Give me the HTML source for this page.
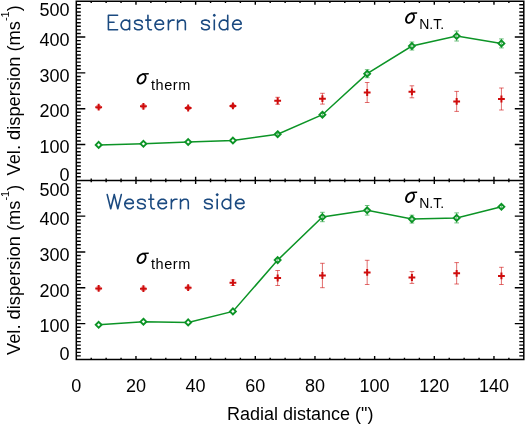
<!DOCTYPE html>
<html><head><meta charset="utf-8"><style>
html,body{margin:0;padding:0;background:#fff;}
body{width:525px;height:424px;position:relative;overflow:hidden;}
svg{position:absolute;left:0;top:0;will-change:transform;font-family:"Liberation Sans",sans-serif;font-size:18px;fill:#000;}
</style></head><body>
<svg width="525" height="424" viewBox="0 0 525 424">
<path d="M76.3 1.2 H523.8 V359.5 H76.3 Z M76.3 180.4 H523.8" fill="none" stroke="#000" stroke-width="1.5"/>
<path d="M76.30 176.82h4.5M523.80 176.82h-4.5M76.30 173.23h4.5M523.80 173.23h-4.5M76.30 169.65h4.5M523.80 169.65h-4.5M76.30 166.06h4.5M523.80 166.06h-4.5M76.30 162.48h4.5M523.80 162.48h-4.5M76.30 158.90h4.5M523.80 158.90h-4.5M76.30 155.31h4.5M523.80 155.31h-4.5M76.30 151.73h4.5M523.80 151.73h-4.5M76.30 148.14h4.5M523.80 148.14h-4.5M76.30 144.56h9.0M523.80 144.56h-9.0M76.30 140.98h4.5M523.80 140.98h-4.5M76.30 137.39h4.5M523.80 137.39h-4.5M76.30 133.81h4.5M523.80 133.81h-4.5M76.30 130.22h4.5M523.80 130.22h-4.5M76.30 126.64h4.5M523.80 126.64h-4.5M76.30 123.06h4.5M523.80 123.06h-4.5M76.30 119.47h4.5M523.80 119.47h-4.5M76.30 115.89h4.5M523.80 115.89h-4.5M76.30 112.30h4.5M523.80 112.30h-4.5M76.30 108.72h9.0M523.80 108.72h-9.0M76.30 105.14h4.5M523.80 105.14h-4.5M76.30 101.55h4.5M523.80 101.55h-4.5M76.30 97.97h4.5M523.80 97.97h-4.5M76.30 94.38h4.5M523.80 94.38h-4.5M76.30 90.80h4.5M523.80 90.80h-4.5M76.30 87.22h4.5M523.80 87.22h-4.5M76.30 83.63h4.5M523.80 83.63h-4.5M76.30 80.05h4.5M523.80 80.05h-4.5M76.30 76.46h4.5M523.80 76.46h-4.5M76.30 72.88h9.0M523.80 72.88h-9.0M76.30 69.30h4.5M523.80 69.30h-4.5M76.30 65.71h4.5M523.80 65.71h-4.5M76.30 62.13h4.5M523.80 62.13h-4.5M76.30 58.54h4.5M523.80 58.54h-4.5M76.30 54.96h4.5M523.80 54.96h-4.5M76.30 51.38h4.5M523.80 51.38h-4.5M76.30 47.79h4.5M523.80 47.79h-4.5M76.30 44.21h4.5M523.80 44.21h-4.5M76.30 40.62h4.5M523.80 40.62h-4.5M76.30 37.04h9.0M523.80 37.04h-9.0M76.30 33.46h4.5M523.80 33.46h-4.5M76.30 29.87h4.5M523.80 29.87h-4.5M76.30 26.29h4.5M523.80 26.29h-4.5M76.30 22.70h4.5M523.80 22.70h-4.5M76.30 19.12h4.5M523.80 19.12h-4.5M76.30 15.54h4.5M523.80 15.54h-4.5M76.30 11.95h4.5M523.80 11.95h-4.5M76.30 8.37h4.5M523.80 8.37h-4.5M76.30 4.78h4.5M523.80 4.78h-4.5M91.22 180.40v-1.8M91.22 1.20v1.8M106.13 180.40v-1.8M106.13 1.20v1.8M121.05 180.40v-1.8M121.05 1.20v1.8M135.97 180.40v-3.6M135.97 1.20v3.6M150.88 180.40v-1.8M150.88 1.20v1.8M165.80 180.40v-1.8M165.80 1.20v1.8M180.72 180.40v-1.8M180.72 1.20v1.8M195.63 180.40v-3.6M195.63 1.20v3.6M210.55 180.40v-1.8M210.55 1.20v1.8M225.47 180.40v-1.8M225.47 1.20v1.8M240.38 180.40v-1.8M240.38 1.20v1.8M255.30 180.40v-3.6M255.30 1.20v3.6M270.22 180.40v-1.8M270.22 1.20v1.8M285.13 180.40v-1.8M285.13 1.20v1.8M300.05 180.40v-1.8M300.05 1.20v1.8M314.97 180.40v-3.6M314.97 1.20v3.6M329.88 180.40v-1.8M329.88 1.20v1.8M344.80 180.40v-1.8M344.80 1.20v1.8M359.72 180.40v-1.8M359.72 1.20v1.8M374.63 180.40v-3.6M374.63 1.20v3.6M389.55 180.40v-1.8M389.55 1.20v1.8M404.47 180.40v-1.8M404.47 1.20v1.8M419.38 180.40v-1.8M419.38 1.20v1.8M434.30 180.40v-3.6M434.30 1.20v3.6M449.22 180.40v-1.8M449.22 1.20v1.8M464.13 180.40v-1.8M464.13 1.20v1.8M479.05 180.40v-1.8M479.05 1.20v1.8M493.97 180.40v-3.6M493.97 1.20v3.6M508.88 180.40v-1.8M508.88 1.20v1.8M76.30 355.92h4.5M523.80 355.92h-4.5M76.30 352.33h4.5M523.80 352.33h-4.5M76.30 348.75h4.5M523.80 348.75h-4.5M76.30 345.16h4.5M523.80 345.16h-4.5M76.30 341.58h4.5M523.80 341.58h-4.5M76.30 338.00h4.5M523.80 338.00h-4.5M76.30 334.41h4.5M523.80 334.41h-4.5M76.30 330.83h4.5M523.80 330.83h-4.5M76.30 327.24h4.5M523.80 327.24h-4.5M76.30 323.66h9.0M523.80 323.66h-9.0M76.30 320.08h4.5M523.80 320.08h-4.5M76.30 316.49h4.5M523.80 316.49h-4.5M76.30 312.91h4.5M523.80 312.91h-4.5M76.30 309.32h4.5M523.80 309.32h-4.5M76.30 305.74h4.5M523.80 305.74h-4.5M76.30 302.16h4.5M523.80 302.16h-4.5M76.30 298.57h4.5M523.80 298.57h-4.5M76.30 294.99h4.5M523.80 294.99h-4.5M76.30 291.40h4.5M523.80 291.40h-4.5M76.30 287.82h9.0M523.80 287.82h-9.0M76.30 284.24h4.5M523.80 284.24h-4.5M76.30 280.65h4.5M523.80 280.65h-4.5M76.30 277.07h4.5M523.80 277.07h-4.5M76.30 273.48h4.5M523.80 273.48h-4.5M76.30 269.90h4.5M523.80 269.90h-4.5M76.30 266.32h4.5M523.80 266.32h-4.5M76.30 262.73h4.5M523.80 262.73h-4.5M76.30 259.15h4.5M523.80 259.15h-4.5M76.30 255.56h4.5M523.80 255.56h-4.5M76.30 251.98h9.0M523.80 251.98h-9.0M76.30 248.40h4.5M523.80 248.40h-4.5M76.30 244.81h4.5M523.80 244.81h-4.5M76.30 241.23h4.5M523.80 241.23h-4.5M76.30 237.64h4.5M523.80 237.64h-4.5M76.30 234.06h4.5M523.80 234.06h-4.5M76.30 230.48h4.5M523.80 230.48h-4.5M76.30 226.89h4.5M523.80 226.89h-4.5M76.30 223.31h4.5M523.80 223.31h-4.5M76.30 219.72h4.5M523.80 219.72h-4.5M76.30 216.14h9.0M523.80 216.14h-9.0M76.30 212.56h4.5M523.80 212.56h-4.5M76.30 208.97h4.5M523.80 208.97h-4.5M76.30 205.39h4.5M523.80 205.39h-4.5M76.30 201.80h4.5M523.80 201.80h-4.5M76.30 198.22h4.5M523.80 198.22h-4.5M76.30 194.64h4.5M523.80 194.64h-4.5M76.30 191.05h4.5M523.80 191.05h-4.5M76.30 187.47h4.5M523.80 187.47h-4.5M76.30 183.88h4.5M523.80 183.88h-4.5M91.22 359.50v-1.8M91.22 180.40v1.8M106.13 359.50v-1.8M106.13 180.40v1.8M121.05 359.50v-1.8M121.05 180.40v1.8M135.97 359.50v-3.6M135.97 180.40v3.6M150.88 359.50v-1.8M150.88 180.40v1.8M165.80 359.50v-1.8M165.80 180.40v1.8M180.72 359.50v-1.8M180.72 180.40v1.8M195.63 359.50v-3.6M195.63 180.40v3.6M210.55 359.50v-1.8M210.55 180.40v1.8M225.47 359.50v-1.8M225.47 180.40v1.8M240.38 359.50v-1.8M240.38 180.40v1.8M255.30 359.50v-3.6M255.30 180.40v3.6M270.22 359.50v-1.8M270.22 180.40v1.8M285.13 359.50v-1.8M285.13 180.40v1.8M300.05 359.50v-1.8M300.05 180.40v1.8M314.97 359.50v-3.6M314.97 180.40v3.6M329.88 359.50v-1.8M329.88 180.40v1.8M344.80 359.50v-1.8M344.80 180.40v1.8M359.72 359.50v-1.8M359.72 180.40v1.8M374.63 359.50v-3.6M374.63 180.40v3.6M389.55 359.50v-1.8M389.55 180.40v1.8M404.47 359.50v-1.8M404.47 180.40v1.8M419.38 359.50v-1.8M419.38 180.40v1.8M434.30 359.50v-3.6M434.30 180.40v3.6M449.22 359.50v-1.8M449.22 180.40v1.8M464.13 359.50v-1.8M464.13 180.40v1.8M479.05 359.50v-1.8M479.05 180.40v1.8M493.97 359.50v-3.6M493.97 180.40v3.6M508.88 359.50v-1.8M508.88 180.40v1.8" fill="none" stroke="#000" stroke-width="1.4"/>
<polyline points="98.67,144.90 143.42,143.80 188.17,142.00 232.92,140.50 277.67,134.20 322.42,114.70 367.17,73.70 411.92,46.00 456.67,36.00 501.42,43.40" fill="none" stroke="#0c9426" stroke-width="1.5"/>
<path d="M98.67 141.95L101.62 144.90L98.67 147.85L95.72 144.90Z" fill="#fff" stroke="#0c9426" stroke-width="1.9"/>
<path d="M98.67 105.70V108.70M96.38 105.70h4.6M96.38 108.70h4.6" stroke="#cf0c0c" stroke-width="1" fill="none" opacity="0.6"/>
<path d="M95.27 107.20h6.8M98.67 103.80v6.8" stroke="#cf0c0c" stroke-width="2"/>
<path d="M143.42 140.85L146.37 143.80L143.42 146.75L140.47 143.80Z" fill="#fff" stroke="#0c9426" stroke-width="1.9"/>
<path d="M143.42 104.80V107.80M141.12 104.80h4.6M141.12 107.80h4.6" stroke="#cf0c0c" stroke-width="1" fill="none" opacity="0.6"/>
<path d="M140.02 106.30h6.8M143.42 102.90v6.8" stroke="#cf0c0c" stroke-width="2"/>
<path d="M188.17 139.05L191.12 142.00L188.17 144.95L185.22 142.00Z" fill="#fff" stroke="#0c9426" stroke-width="1.9"/>
<path d="M188.17 106.50V109.50M185.87 106.50h4.6M185.87 109.50h4.6" stroke="#cf0c0c" stroke-width="1" fill="none" opacity="0.6"/>
<path d="M184.77 108.00h6.8M188.17 104.60v6.8" stroke="#cf0c0c" stroke-width="2"/>
<path d="M232.92 137.55L235.87 140.50L232.92 143.45L229.97 140.50Z" fill="#fff" stroke="#0c9426" stroke-width="1.9"/>
<path d="M232.92 104.40V107.40M230.62 104.40h4.6M230.62 107.40h4.6" stroke="#cf0c0c" stroke-width="1" fill="none" opacity="0.6"/>
<path d="M229.52 105.90h6.8M232.92 102.50v6.8" stroke="#cf0c0c" stroke-width="2"/>
<path d="M277.67 131.25L280.62 134.20L277.67 137.15L274.72 134.20Z" fill="#fff" stroke="#0c9426" stroke-width="1.9"/>
<path d="M277.67 133.20V135.20M275.37 133.20h4.6M275.37 135.20h4.6" stroke="#0c9426" stroke-width="1" fill="none" opacity="0.6"/>
<path d="M277.67 97.30V104.30M275.37 97.30h4.6M275.37 104.30h4.6" stroke="#cf0c0c" stroke-width="1" fill="none" opacity="0.6"/>
<path d="M274.27 100.80h6.8M277.67 97.40v6.8" stroke="#cf0c0c" stroke-width="2"/>
<path d="M322.42 111.75L325.37 114.70L322.42 117.65L319.47 114.70Z" fill="#fff" stroke="#0c9426" stroke-width="1.9"/>
<path d="M322.42 113.20V116.20M320.12 113.20h4.6M320.12 116.20h4.6" stroke="#0c9426" stroke-width="1" fill="none" opacity="0.6"/>
<path d="M322.42 93.30V104.10M320.12 93.30h4.6M320.12 104.10h4.6" stroke="#cf0c0c" stroke-width="1" fill="none" opacity="0.6"/>
<path d="M319.02 98.70h6.8M322.42 95.30v6.8" stroke="#cf0c0c" stroke-width="2"/>
<path d="M367.17 70.75L370.12 73.70L367.17 76.65L364.22 73.70Z" fill="#fff" stroke="#0c9426" stroke-width="1.9"/>
<path d="M367.17 69.70V77.70M364.87 69.70h4.6M364.87 77.70h4.6" stroke="#0c9426" stroke-width="1" fill="none" opacity="0.6"/>
<path d="M367.17 82.50V102.50M364.87 82.50h4.6M364.87 102.50h4.6" stroke="#cf0c0c" stroke-width="1" fill="none" opacity="0.6"/>
<path d="M363.77 92.50h6.8M367.17 89.10v6.8" stroke="#cf0c0c" stroke-width="2"/>
<path d="M411.92 43.05L414.87 46.00L411.92 48.95L408.97 46.00Z" fill="#fff" stroke="#0c9426" stroke-width="1.9"/>
<path d="M411.92 42.00V50.00M409.62 42.00h4.6M409.62 50.00h4.6" stroke="#0c9426" stroke-width="1" fill="none" opacity="0.6"/>
<path d="M411.92 85.80V97.80M409.62 85.80h4.6M409.62 97.80h4.6" stroke="#cf0c0c" stroke-width="1" fill="none" opacity="0.6"/>
<path d="M408.52 91.80h6.8M411.92 88.40v6.8" stroke="#cf0c0c" stroke-width="2"/>
<path d="M456.67 33.05L459.62 36.00L456.67 38.95L453.72 36.00Z" fill="#fff" stroke="#0c9426" stroke-width="1.9"/>
<path d="M456.67 31.00V41.00M454.37 31.00h4.6M454.37 41.00h4.6" stroke="#0c9426" stroke-width="1" fill="none" opacity="0.6"/>
<path d="M456.67 91.40V111.40M454.37 91.40h4.6M454.37 111.40h4.6" stroke="#cf0c0c" stroke-width="1" fill="none" opacity="0.6"/>
<path d="M453.27 101.40h6.8M456.67 98.00v6.8" stroke="#cf0c0c" stroke-width="2"/>
<path d="M501.42 40.45L504.37 43.40L501.42 46.35L498.47 43.40Z" fill="#fff" stroke="#0c9426" stroke-width="1.9"/>
<path d="M501.42 38.90V47.90M499.12 38.90h4.6M499.12 47.90h4.6" stroke="#0c9426" stroke-width="1" fill="none" opacity="0.6"/>
<path d="M501.42 88.00V110.00M499.12 88.00h4.6M499.12 110.00h4.6" stroke="#cf0c0c" stroke-width="1" fill="none" opacity="0.6"/>
<path d="M498.02 99.00h6.8M501.42 95.60v6.8" stroke="#cf0c0c" stroke-width="2"/>
<polyline points="98.67,324.80 143.42,321.70 188.17,322.40 232.92,311.40 277.67,260.10 322.42,217.00 367.17,210.30 411.92,219.10 456.67,217.90 501.42,206.80" fill="none" stroke="#0c9426" stroke-width="1.5"/>
<path d="M98.67 321.85L101.62 324.80L98.67 327.75L95.72 324.80Z" fill="#fff" stroke="#0c9426" stroke-width="1.9"/>
<path d="M98.67 286.90V289.90M96.38 286.90h4.6M96.38 289.90h4.6" stroke="#cf0c0c" stroke-width="1" fill="none" opacity="0.6"/>
<path d="M95.27 288.40h6.8M98.67 285.00v6.8" stroke="#cf0c0c" stroke-width="2"/>
<path d="M143.42 318.75L146.37 321.70L143.42 324.65L140.47 321.70Z" fill="#fff" stroke="#0c9426" stroke-width="1.9"/>
<path d="M143.42 287.20V290.20M141.12 287.20h4.6M141.12 290.20h4.6" stroke="#cf0c0c" stroke-width="1" fill="none" opacity="0.6"/>
<path d="M140.02 288.70h6.8M143.42 285.30v6.8" stroke="#cf0c0c" stroke-width="2"/>
<path d="M188.17 319.45L191.12 322.40L188.17 325.35L185.22 322.40Z" fill="#fff" stroke="#0c9426" stroke-width="1.9"/>
<path d="M188.17 286.20V289.20M185.87 286.20h4.6M185.87 289.20h4.6" stroke="#cf0c0c" stroke-width="1" fill="none" opacity="0.6"/>
<path d="M184.77 287.70h6.8M188.17 284.30v6.8" stroke="#cf0c0c" stroke-width="2"/>
<path d="M232.92 308.45L235.87 311.40L232.92 314.35L229.97 311.40Z" fill="#fff" stroke="#0c9426" stroke-width="1.9"/>
<path d="M232.92 279.90V285.50M230.62 279.90h4.6M230.62 285.50h4.6" stroke="#cf0c0c" stroke-width="1" fill="none" opacity="0.6"/>
<path d="M229.52 282.70h6.8M232.92 279.30v6.8" stroke="#cf0c0c" stroke-width="2"/>
<path d="M277.67 257.15L280.62 260.10L277.67 263.05L274.72 260.10Z" fill="#fff" stroke="#0c9426" stroke-width="1.9"/>
<path d="M277.67 258.60V261.60M275.37 258.60h4.6M275.37 261.60h4.6" stroke="#0c9426" stroke-width="1" fill="none" opacity="0.6"/>
<path d="M277.67 270.50V285.50M275.37 270.50h4.6M275.37 285.50h4.6" stroke="#cf0c0c" stroke-width="1" fill="none" opacity="0.6"/>
<path d="M274.27 278.00h6.8M277.67 274.60v6.8" stroke="#cf0c0c" stroke-width="2"/>
<path d="M322.42 214.05L325.37 217.00L322.42 219.95L319.47 217.00Z" fill="#fff" stroke="#0c9426" stroke-width="1.9"/>
<path d="M322.42 212.30V221.70M320.12 212.30h4.6M320.12 221.70h4.6" stroke="#0c9426" stroke-width="1" fill="none" opacity="0.6"/>
<path d="M322.42 263.30V287.70M320.12 263.30h4.6M320.12 287.70h4.6" stroke="#cf0c0c" stroke-width="1" fill="none" opacity="0.6"/>
<path d="M319.02 275.50h6.8M322.42 272.10v6.8" stroke="#cf0c0c" stroke-width="2"/>
<path d="M367.17 207.35L370.12 210.30L367.17 213.25L364.22 210.30Z" fill="#fff" stroke="#0c9426" stroke-width="1.9"/>
<path d="M367.17 205.50V215.10M364.87 205.50h4.6M364.87 215.10h4.6" stroke="#0c9426" stroke-width="1" fill="none" opacity="0.6"/>
<path d="M367.17 260.30V284.50M364.87 260.30h4.6M364.87 284.50h4.6" stroke="#cf0c0c" stroke-width="1" fill="none" opacity="0.6"/>
<path d="M363.77 272.40h6.8M367.17 269.00v6.8" stroke="#cf0c0c" stroke-width="2"/>
<path d="M411.92 216.15L414.87 219.10L411.92 222.05L408.97 219.10Z" fill="#fff" stroke="#0c9426" stroke-width="1.9"/>
<path d="M411.92 215.20V223.00M409.62 215.20h4.6M409.62 223.00h4.6" stroke="#0c9426" stroke-width="1" fill="none" opacity="0.6"/>
<path d="M411.92 271.60V283.40M409.62 271.60h4.6M409.62 283.40h4.6" stroke="#cf0c0c" stroke-width="1" fill="none" opacity="0.6"/>
<path d="M408.52 277.50h6.8M411.92 274.10v6.8" stroke="#cf0c0c" stroke-width="2"/>
<path d="M456.67 214.95L459.62 217.90L456.67 220.85L453.72 217.90Z" fill="#fff" stroke="#0c9426" stroke-width="1.9"/>
<path d="M456.67 212.90V222.90M454.37 212.90h4.6M454.37 222.90h4.6" stroke="#0c9426" stroke-width="1" fill="none" opacity="0.6"/>
<path d="M456.67 262.60V284.00M454.37 262.60h4.6M454.37 284.00h4.6" stroke="#cf0c0c" stroke-width="1" fill="none" opacity="0.6"/>
<path d="M453.27 273.30h6.8M456.67 269.90v6.8" stroke="#cf0c0c" stroke-width="2"/>
<path d="M501.42 203.85L504.37 206.80L501.42 209.75L498.47 206.80Z" fill="#fff" stroke="#0c9426" stroke-width="1.9"/>
<path d="M501.42 205.30V208.30M499.12 205.30h4.6M499.12 208.30h4.6" stroke="#0c9426" stroke-width="1" fill="none" opacity="0.6"/>
<path d="M501.42 267.30V284.50M499.12 267.30h4.6M499.12 284.50h4.6" stroke="#cf0c0c" stroke-width="1" fill="none" opacity="0.6"/>
<path d="M498.02 275.90h6.8M501.42 272.50v6.8" stroke="#cf0c0c" stroke-width="2"/>
<path d="M108.40 15.31 L108.40 29.80 M108.40 15.31 L117.58 15.31 M108.40 22.21 L114.05 22.21 M108.40 29.80 L117.58 29.80 M129.58 20.14 L129.58 29.80 M129.58 22.21 L128.17 20.83 L126.76 20.14 L124.64 20.14 L123.23 20.83 L121.82 22.21 L121.11 24.28 L121.11 25.66 L121.82 27.73 L123.23 29.11 L124.64 29.80 L126.76 29.80 L128.17 29.11 L129.58 27.73 M142.29 22.21 L141.59 20.83 L139.47 20.14 L137.35 20.14 L135.23 20.83 L134.53 22.21 L135.23 23.59 L136.64 24.28 L140.17 24.97 L141.59 25.66 L142.29 27.04 L142.29 27.73 L141.59 29.11 L139.47 29.80 L137.35 29.80 L135.23 29.11 L134.53 27.73 M147.94 15.31 L147.94 27.04 L148.65 29.11 L150.06 29.80 L151.47 29.80 M145.82 20.14 L150.76 20.14 M155.00 24.28 L163.47 24.28 L163.47 22.90 L162.77 21.52 L162.06 20.83 L160.65 20.14 L158.53 20.14 L157.12 20.83 L155.71 22.21 L155.00 24.28 L155.00 25.66 L155.71 27.73 L157.12 29.11 L158.53 29.80 L160.65 29.80 L162.06 29.11 L163.47 27.73 M168.41 20.14 L168.41 29.80 M168.41 24.28 L169.12 22.21 L170.53 20.83 L171.94 20.14 L174.06 20.14 M177.59 20.14 L177.59 29.80 M177.59 22.90 L179.71 20.83 L181.12 20.14 L183.24 20.14 L184.65 20.83 L185.36 22.90 L185.36 29.80 M209.36 22.21 L208.66 20.83 L206.54 20.14 L204.42 20.14 L202.30 20.83 L201.60 22.21 L202.30 23.59 L203.71 24.28 L207.24 24.97 L208.66 25.66 L209.36 27.04 L209.36 27.73 L208.66 29.11 L206.54 29.80 L204.42 29.80 L202.30 29.11 L201.60 27.73 M213.60 15.31 L214.30 16.00 L215.01 15.31 L214.30 14.62 L213.60 15.31 M214.30 20.14 L214.30 29.80 M227.72 15.31 L227.72 29.80 M227.72 22.21 L226.31 20.83 L224.89 20.14 L222.78 20.14 L221.36 20.83 L219.95 22.21 L219.25 24.28 L219.25 25.66 L219.95 27.73 L221.36 29.11 L222.78 29.80 L224.89 29.80 L226.31 29.11 L227.72 27.73 M232.66 24.28 L241.13 24.28 L241.13 22.90 L240.43 21.52 L239.72 20.83 L238.31 20.14 L236.19 20.14 L234.78 20.83 L233.37 22.21 L232.66 24.28 L232.66 25.66 L233.37 27.73 L234.78 29.11 L236.19 29.80 L238.31 29.80 L239.72 29.11 L241.13 27.73" fill="none" stroke="#1b4a80" stroke-width="1.6" stroke-linecap="round" stroke-linejoin="round"/>
<path d="M107.21 194.63 L110.73 208.70 M114.26 194.63 L110.73 208.70 M114.26 194.63 L117.78 208.70 M121.31 194.63 L117.78 208.70 M124.83 203.34 L133.29 203.34 L133.29 202.00 L132.59 200.66 L131.88 199.99 L130.47 199.32 L128.36 199.32 L126.95 199.99 L125.54 201.33 L124.83 203.34 L124.83 204.68 L125.54 206.69 L126.95 208.03 L128.36 208.70 L130.47 208.70 L131.88 208.03 L133.29 206.69 M145.28 201.33 L144.57 199.99 L142.46 199.32 L140.34 199.32 L138.23 199.99 L137.52 201.33 L138.23 202.67 L139.64 203.34 L143.16 204.01 L144.57 204.68 L145.28 206.02 L145.28 206.69 L144.57 208.03 L142.46 208.70 L140.34 208.70 L138.23 208.03 L137.52 206.69 M150.92 194.63 L150.92 206.02 L151.62 208.03 L153.03 208.70 L154.44 208.70 M148.80 199.32 L153.74 199.32 M157.97 203.34 L166.43 203.34 L166.43 202.00 L165.72 200.66 L165.02 199.99 L163.61 199.32 L161.49 199.32 L160.08 199.99 L158.67 201.33 L157.97 203.34 L157.97 204.68 L158.67 206.69 L160.08 208.03 L161.49 208.70 L163.61 208.70 L165.02 208.03 L166.43 206.69 M171.36 199.32 L171.36 208.70 M171.36 203.34 L172.07 201.33 L173.48 199.99 L174.89 199.32 L177.00 199.32 M180.53 199.32 L180.53 208.70 M180.53 202.00 L182.64 199.99 L184.05 199.32 L186.17 199.32 L187.58 199.99 L188.28 202.00 L188.28 208.70 M212.25 201.33 L211.55 199.99 L209.43 199.32 L207.32 199.32 L205.20 199.99 L204.50 201.33 L205.20 202.67 L206.61 203.34 L210.14 204.01 L211.55 204.68 L212.25 206.02 L212.25 206.69 L211.55 208.03 L209.43 208.70 L207.32 208.70 L205.20 208.03 L204.50 206.69 M216.48 194.63 L217.19 195.30 L217.90 194.63 L217.19 193.96 L216.48 194.63 M217.19 199.32 L217.19 208.70 M230.58 194.63 L230.58 208.70 M230.58 201.33 L229.17 199.99 L227.76 199.32 L225.65 199.32 L224.24 199.99 L222.83 201.33 L222.12 203.34 L222.12 204.68 L222.83 206.69 L224.24 208.03 L225.65 208.70 L227.76 208.70 L229.17 208.03 L230.58 206.69 M235.52 203.34 L243.98 203.34 L243.98 202.00 L243.28 200.66 L242.57 199.99 L241.16 199.32 L239.04 199.32 L237.63 199.99 L236.22 201.33 L235.52 203.34 L235.52 204.68 L236.22 206.69 L237.63 208.03 L239.04 208.70 L241.16 208.70 L242.57 208.03 L243.98 206.69" fill="none" stroke="#1b4a80" stroke-width="1.6" stroke-linecap="round" stroke-linejoin="round"/>
<text x="69.6" y="16.0" text-anchor="end">500</text>
<text x="69.6" y="45.7" text-anchor="end">400</text>
<text x="69.6" y="81.6" text-anchor="end">300</text>
<text x="69.6" y="117.2" text-anchor="end">200</text>
<text x="69.6" y="153.0" text-anchor="end">100</text>
<text x="69.6" y="181.0" text-anchor="end">0</text>
<text x="69.6" y="195.8" text-anchor="end">500</text>
<text x="69.6" y="224.9" text-anchor="end">400</text>
<text x="69.6" y="260.8" text-anchor="end">300</text>
<text x="69.6" y="296.6" text-anchor="end">200</text>
<text x="69.6" y="332.2" text-anchor="end">100</text>
<text x="69.6" y="359.8" text-anchor="end">0</text>
<text x="76.30" y="391.7" text-anchor="middle">0</text>
<text x="135.97" y="391.7" text-anchor="middle">20</text>
<text x="195.63" y="391.7" text-anchor="middle">40</text>
<text x="255.30" y="391.7" text-anchor="middle">60</text>
<text x="314.97" y="391.7" text-anchor="middle">80</text>
<text x="374.63" y="391.7" text-anchor="middle">100</text>
<text x="434.30" y="391.7" text-anchor="middle">120</text>
<text x="493.97" y="391.7" text-anchor="middle">140</text>
<text x="227" y="419.6">Radial distance (")</text>
<g transform="translate(19.6 175.5) rotate(-90)"><text x="0" y="0"><tspan font-size="18.3">Vel. dispersion (ms</tspan><tspan font-size="11" dy="-10.7">-1</tspan><tspan dy="10.7">)</tspan></text></g>
<g transform="translate(19.6 355.0) rotate(-90)"><text x="0" y="0"><tspan font-size="18.3">Vel. dispersion (ms</tspan><tspan font-size="11" dy="-10.7">-1</tspan><tspan dy="10.7">)</tspan></text></g>
<g transform="translate(136.50 73.00)"><path fill-rule="evenodd" d="M8.48 1.17L8.93 1.54L9.30 1.98L9.61 2.50L9.83 3.08L9.98 3.70L10.04 4.37L10.02 5.06L9.91 5.77L9.72 6.48L9.46 7.19L9.12 7.87L8.70 8.52L8.23 9.13L7.71 9.69L7.13 10.18L6.53 10.60L5.90 10.94L5.26 11.20L4.61 11.37L3.97 11.45L3.35 11.43L2.76 11.32L2.22 11.12L1.72 10.83L1.27 10.46L0.90 10.02L0.59 9.50L0.37 8.92L0.22 8.30L0.16 7.63L0.18 6.94L0.29 6.23L0.48 5.52L0.74 4.81L1.08 4.13L1.50 3.48L1.97 2.87L2.49 2.31L3.07 1.82L3.67 1.40L4.30 1.06L4.94 0.80L5.59 0.63L6.23 0.55L6.85 0.57L7.44 0.68L7.98 0.88ZM7.43 2.34L7.68 2.54L7.90 2.80L8.07 3.12L8.19 3.48L8.26 3.88L8.27 4.32L8.24 4.78L8.15 5.27L8.01 5.76L7.82 6.26L7.59 6.75L7.32 7.22L7.01 7.68L6.67 8.10L6.31 8.49L5.92 8.83L5.53 9.12L5.13 9.36L4.72 9.53L4.33 9.65L3.96 9.70L3.60 9.68L3.27 9.60L2.97 9.46L2.72 9.26L2.50 9.00L2.33 8.68L2.21 8.32L2.14 7.92L2.13 7.48L2.16 7.02L2.25 6.53L2.39 6.04L2.58 5.54L2.81 5.05L3.08 4.58L3.39 4.12L3.73 3.70L4.09 3.31L4.48 2.97L4.87 2.68L5.27 2.44L5.68 2.27L6.07 2.15L6.44 2.10L6.80 2.12L7.13 2.20Z" fill="#000"/><path d="M5.6 0.25 L12.3 0.05 L12.2 1.55 L6.0 1.75 Z" fill="#000"/></g>
<g transform="translate(136.50 252.50)"><path fill-rule="evenodd" d="M8.48 1.17L8.93 1.54L9.30 1.98L9.61 2.50L9.83 3.08L9.98 3.70L10.04 4.37L10.02 5.06L9.91 5.77L9.72 6.48L9.46 7.19L9.12 7.87L8.70 8.52L8.23 9.13L7.71 9.69L7.13 10.18L6.53 10.60L5.90 10.94L5.26 11.20L4.61 11.37L3.97 11.45L3.35 11.43L2.76 11.32L2.22 11.12L1.72 10.83L1.27 10.46L0.90 10.02L0.59 9.50L0.37 8.92L0.22 8.30L0.16 7.63L0.18 6.94L0.29 6.23L0.48 5.52L0.74 4.81L1.08 4.13L1.50 3.48L1.97 2.87L2.49 2.31L3.07 1.82L3.67 1.40L4.30 1.06L4.94 0.80L5.59 0.63L6.23 0.55L6.85 0.57L7.44 0.68L7.98 0.88ZM7.43 2.34L7.68 2.54L7.90 2.80L8.07 3.12L8.19 3.48L8.26 3.88L8.27 4.32L8.24 4.78L8.15 5.27L8.01 5.76L7.82 6.26L7.59 6.75L7.32 7.22L7.01 7.68L6.67 8.10L6.31 8.49L5.92 8.83L5.53 9.12L5.13 9.36L4.72 9.53L4.33 9.65L3.96 9.70L3.60 9.68L3.27 9.60L2.97 9.46L2.72 9.26L2.50 9.00L2.33 8.68L2.21 8.32L2.14 7.92L2.13 7.48L2.16 7.02L2.25 6.53L2.39 6.04L2.58 5.54L2.81 5.05L3.08 4.58L3.39 4.12L3.73 3.70L4.09 3.31L4.48 2.97L4.87 2.68L5.27 2.44L5.68 2.27L6.07 2.15L6.44 2.10L6.80 2.12L7.13 2.20Z" fill="#000"/><path d="M5.6 0.25 L12.3 0.05 L12.2 1.55 L6.0 1.75 Z" fill="#000"/></g>
<g transform="translate(404.90 12.30)"><path fill-rule="evenodd" d="M8.48 1.17L8.93 1.54L9.30 1.98L9.61 2.50L9.83 3.08L9.98 3.70L10.04 4.37L10.02 5.06L9.91 5.77L9.72 6.48L9.46 7.19L9.12 7.87L8.70 8.52L8.23 9.13L7.71 9.69L7.13 10.18L6.53 10.60L5.90 10.94L5.26 11.20L4.61 11.37L3.97 11.45L3.35 11.43L2.76 11.32L2.22 11.12L1.72 10.83L1.27 10.46L0.90 10.02L0.59 9.50L0.37 8.92L0.22 8.30L0.16 7.63L0.18 6.94L0.29 6.23L0.48 5.52L0.74 4.81L1.08 4.13L1.50 3.48L1.97 2.87L2.49 2.31L3.07 1.82L3.67 1.40L4.30 1.06L4.94 0.80L5.59 0.63L6.23 0.55L6.85 0.57L7.44 0.68L7.98 0.88ZM7.43 2.34L7.68 2.54L7.90 2.80L8.07 3.12L8.19 3.48L8.26 3.88L8.27 4.32L8.24 4.78L8.15 5.27L8.01 5.76L7.82 6.26L7.59 6.75L7.32 7.22L7.01 7.68L6.67 8.10L6.31 8.49L5.92 8.83L5.53 9.12L5.13 9.36L4.72 9.53L4.33 9.65L3.96 9.70L3.60 9.68L3.27 9.60L2.97 9.46L2.72 9.26L2.50 9.00L2.33 8.68L2.21 8.32L2.14 7.92L2.13 7.48L2.16 7.02L2.25 6.53L2.39 6.04L2.58 5.54L2.81 5.05L3.08 4.58L3.39 4.12L3.73 3.70L4.09 3.31L4.48 2.97L4.87 2.68L5.27 2.44L5.68 2.27L6.07 2.15L6.44 2.10L6.80 2.12L7.13 2.20Z" fill="#000"/><path d="M5.6 0.25 L12.3 0.05 L12.2 1.55 L6.0 1.75 Z" fill="#000"/></g>
<g transform="translate(404.90 191.50)"><path fill-rule="evenodd" d="M8.48 1.17L8.93 1.54L9.30 1.98L9.61 2.50L9.83 3.08L9.98 3.70L10.04 4.37L10.02 5.06L9.91 5.77L9.72 6.48L9.46 7.19L9.12 7.87L8.70 8.52L8.23 9.13L7.71 9.69L7.13 10.18L6.53 10.60L5.90 10.94L5.26 11.20L4.61 11.37L3.97 11.45L3.35 11.43L2.76 11.32L2.22 11.12L1.72 10.83L1.27 10.46L0.90 10.02L0.59 9.50L0.37 8.92L0.22 8.30L0.16 7.63L0.18 6.94L0.29 6.23L0.48 5.52L0.74 4.81L1.08 4.13L1.50 3.48L1.97 2.87L2.49 2.31L3.07 1.82L3.67 1.40L4.30 1.06L4.94 0.80L5.59 0.63L6.23 0.55L6.85 0.57L7.44 0.68L7.98 0.88ZM7.43 2.34L7.68 2.54L7.90 2.80L8.07 3.12L8.19 3.48L8.26 3.88L8.27 4.32L8.24 4.78L8.15 5.27L8.01 5.76L7.82 6.26L7.59 6.75L7.32 7.22L7.01 7.68L6.67 8.10L6.31 8.49L5.92 8.83L5.53 9.12L5.13 9.36L4.72 9.53L4.33 9.65L3.96 9.70L3.60 9.68L3.27 9.60L2.97 9.46L2.72 9.26L2.50 9.00L2.33 8.68L2.21 8.32L2.14 7.92L2.13 7.48L2.16 7.02L2.25 6.53L2.39 6.04L2.58 5.54L2.81 5.05L3.08 4.58L3.39 4.12L3.73 3.70L4.09 3.31L4.48 2.97L4.87 2.68L5.27 2.44L5.68 2.27L6.07 2.15L6.44 2.10L6.80 2.12L7.13 2.20Z" fill="#000"/><path d="M5.6 0.25 L12.3 0.05 L12.2 1.55 L6.0 1.75 Z" fill="#000"/></g>
<text x="151" y="89.6" font-size="14.5" letter-spacing="0.55">therm</text>
<text x="151" y="268.6" font-size="14.5" letter-spacing="0.55">therm</text>
<text x="419.2" y="28.6" font-size="14">N.T.</text>
<text x="419.2" y="207.9" font-size="14">N.T.</text>
</svg>
</body></html>
